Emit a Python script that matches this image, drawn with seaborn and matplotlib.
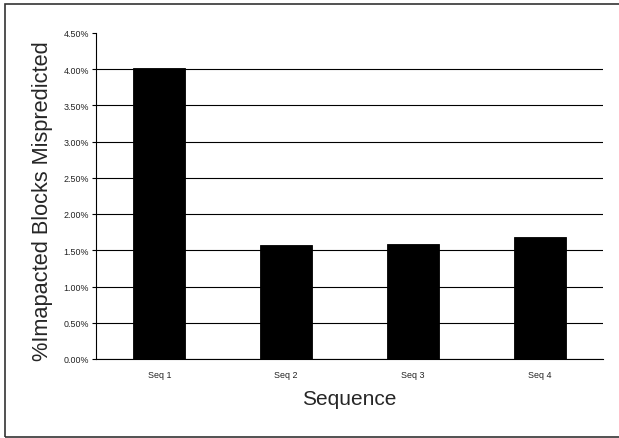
import numpy as np
import pandas as pd
import matplotlib
matplotlib.use("Agg")
import matplotlib.pyplot as plt
from matplotlib.patches import Rectangle
from matplotlib.ticker import FuncFormatter, FixedLocator
import seaborn as sns

# Data
sequences = ["Seq 1", "Seq 2", "Seq 3", "Seq 4"]
mispredicted_pct = [4.01, 1.57, 1.59, 1.68]
y_ticks = [0.0, 0.5, 1.0, 1.5, 2.0, 2.5, 3.0, 3.5, 4.0, 4.5]

df = pd.DataFrame({"Sequence": sequences, "Pct": mispredicted_pct})

sns.set_style("white")
plt.rcParams["font.family"] = ["Liberation Sans", "DejaVu Sans"]

fig = plt.figure(figsize=(6.19, 4.39), dpi=100)
ax = fig.add_axes([96 / 619, 1 - 360 / 439, (603 - 96) / 619, (360 - 33.75) / 439])

sns.barplot(data=df, x="Sequence", y="Pct", color="black", width=0.41,
            edgecolor="black", linewidth=0.6, saturation=1, ax=ax, zorder=3)

ax.set_xlim(-0.5, len(sequences) - 0.5)
ax.set_ylim(0, 4.5)
ax.set_yticks(y_ticks)
ax.yaxis.set_major_formatter(FuncFormatter(lambda v, p: f"{v:.2f}%"))

# horizontal gridlines (none at the top tick)
ax.yaxis.grid(True, color="black", linewidth=0.8, zorder=0)
ax.get_ygridlines()[-1].set_visible(False)
ax.set_axisbelow(True)

# x ticks sit at category boundaries, labels at centres
ax.xaxis.set_minor_locator(FixedLocator(np.arange(-0.5, len(sequences), 1.0)))
ax.tick_params(axis="x", which="major", length=0, labelsize=6.4, pad=8, labelcolor="#222222")
ax.tick_params(axis="x", which="minor", length=3, width=0.8, direction="out", color="black")
ax.tick_params(axis="y", length=3, width=0.8, direction="out", labelsize=6.4, pad=2,
               left=True, labelcolor="#222222", color="black")

for side in ["top", "right"]:
    ax.spines[side].set_visible(False)
for side in ["left", "bottom"]:
    ax.spines[side].set_color("black")
    ax.spines[side].set_linewidth(0.8)

ax.set_xlabel("")
ax.set_ylabel("")
fig.text((96 + 603) / 2 / 619, 1 - 400 / 439, "Sequence", fontsize=15,
         ha="center", va="center")
fig.text(43 / 619, 1 - 201 / 439, "%Imapacted Blocks Mispredicted", fontsize=15.7,
         rotation=90, ha="center", va="center")

# outer frame
fig.patches.append(Rectangle((5 / 619, 1 - 438 / 439), 1.0, (438 - 5) / 439,
                             transform=fig.transFigure, fill=False,
                             edgecolor="#333333", linewidth=1.2))

fig.savefig("out.png", dpi=100)
